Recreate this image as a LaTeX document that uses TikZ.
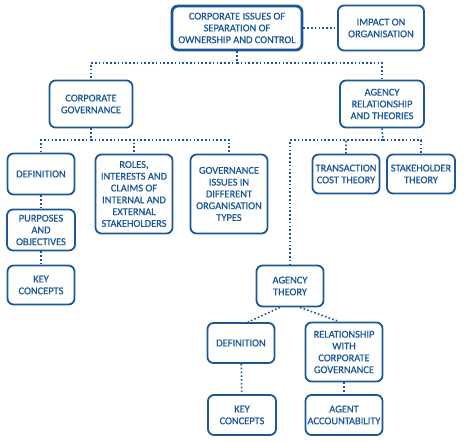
\documentclass[tikz,border=0pt]{standalone}
\usepackage{fontspec}
\setmainfont{Carlito}
\newfontfamily\boxfont{Carlito}[FakeBold=0.8]
\definecolor{boxblue}{RGB}{28,88,150}
\tikzset{
  box/.style={draw=boxblue,line width=1.8pt,rounded corners=6pt,fill=white,
    text=boxblue,align=center,inner sep=0pt,
    font=\boxfont\fontsize{10.4}{11.8}\selectfont},
  link/.style={draw=boxblue,line width=1.6pt,dash pattern=on 1.6pt off 2.2pt}
}
\begin{document}
\begin{tikzpicture}[x=1pt,y=-1pt]
  \useasboundingbox (0,0) rectangle (464,442);
  % top row
  \node[box,line width=2.8pt,minimum width=130pt,minimum height=44pt] (top) at (237,28)
    {CORPORATE ISSUES OF\\SEPARATION OF\\OWNERSHIP AND CONTROL};
  \node[box,minimum width=86pt,minimum height=45pt] (impact) at (381,28)
    {IMPACT ON\\ORGANISATION};
  % second row
  \node[box,minimum width=83pt,minimum height=47pt] (cg) at (91,104)
    {CORPORATE\\GOVERNANCE};
  \node[box,minimum width=84pt,minimum height=47pt] (ar) at (382,104)
    {AGENCY\\RELATIONSHIP\\AND THEORIES};
  % corporate governance branch
  \node[box,minimum width=67pt,minimum height=41pt] (def) at (41,174) {DEFINITION};
  \node[box,minimum width=68pt,minimum height=41pt] (purp) at (41,230)
    {PURPOSES\\AND\\OBJECTIVES};
  \node[box,minimum width=67pt,minimum height=39pt] (key) at (41,285)
    {KEY\\CONCEPTS};
  \node[box,minimum width=77pt,minimum height=79pt] (roles) at (134,194)
    {ROLES,\\INTERESTS AND\\CLAIMS OF\\INTERNAL AND\\EXTERNAL\\STAKEHOLDERS};
  \node[box,minimum width=77pt,minimum height=79pt] (gov) at (229,194)
    {GOVERNANCE\\ISSUES IN\\DIFFERENT\\ORGANISATION\\TYPES};
  % agency branch
  \node[box,minimum width=67pt,minimum height=39pt] (trans) at (346,174)
    {TRANSACTION\\COST THEORY};
  \node[box,minimum width=68pt,minimum height=39pt] (stake) at (421,174)
    {STAKEHOLDER\\THEORY};
  \node[box,minimum width=67pt,minimum height=41pt] (at) at (290,286)
    {AGENCY\\THEORY};
  \node[box,minimum width=67pt,minimum height=40pt] (atdef) at (241,343) {DEFINITION};
  \node[box,minimum width=77pt,minimum height=59pt] (rel) at (344,352)
    {RELATIONSHIP\\WITH\\CORPORATE\\GOVERNANCE};
  \node[box,minimum width=68pt,minimum height=40pt] (atkey) at (242,415)
    {KEY\\CONCEPTS};
  \node[box,minimum width=77pt,minimum height=40pt] (agent) at (344,415)
    {AGENT\\ACCOUNTABILITY};
  % connectors
  \coordinate (bustop) at (237,63);
  \coordinate (buscg) at (91,140);
  \coordinate (busar) at (383,140);
  \draw[link] (top) -- (impact);
  \draw[link] (top.south) -- (bustop) -| (cg.north);
  \draw[link] (bustop) -| (ar.north);
  \draw[link] (cg.south) -- (buscg) -| (def.north);
  \draw[link] (buscg) -| (roles.north);
  \draw[link] (buscg) -| (gov.north);
  \draw[link] (ar.south) -- (busar) -| (trans.north);
  \draw[link] (busar) -| (stake.north);
  \draw[link] (busar) -| (at.north);
  \draw[link] (def) -- (purp);
  \draw[link] (purp) -- (key);
  \draw[link] ([xshift=-10pt]at.south) -- ([xshift=7pt]atdef.north);
  \draw[link] ([xshift=10pt]at.south) -- ([xshift=-5pt]rel.north);
  \draw[link] (atdef) -- (atkey);
  \draw[link] (rel) -- (agent);
\end{tikzpicture}
\end{document}
